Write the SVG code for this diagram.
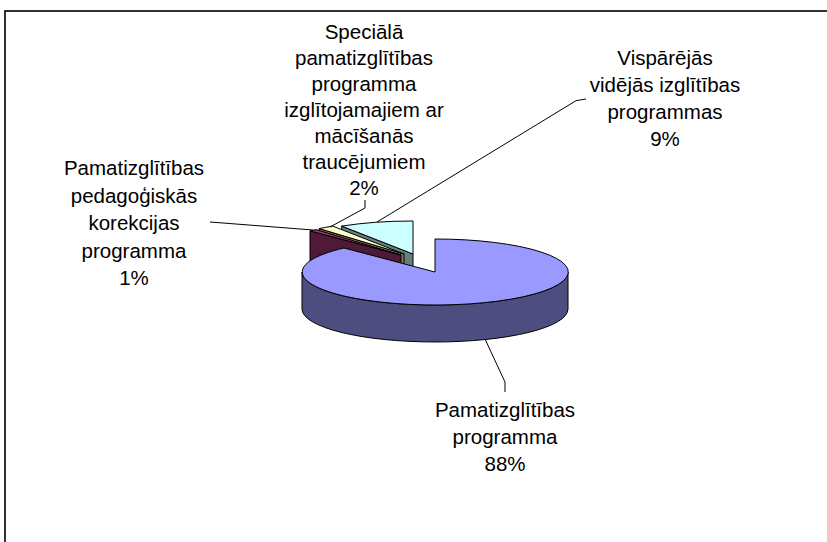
<svg xmlns="http://www.w3.org/2000/svg" width="827" height="542" viewBox="0 0 827 542">
<style>
  text { font-family: "Liberation Sans", Arial, sans-serif; font-size: 20.5px; fill: #000; text-anchor: middle; }
  .face { stroke: #000; stroke-width: 1; stroke-linejoin: round; }
  .lead { fill: none; stroke: #000; stroke-width: 1; }
</style>
<rect x="5" y="11" width="830" height="540" fill="#fff" stroke="#000" stroke-width="1.6"/>
<g id="slice-9">
  <path class="face" fill="#668080" d="M413,254 L341.7,226.1 L341.7,263.1 L413,291 Z"/>
  <path class="face" fill="#CCFFFF" d="M413,254 L341.7,226.1 A133,33 0 0,1 413,221 Z"/>
</g>
<g id="slice-2">
  <path class="face" fill="#808066" d="M404,254 L319.2,228.6 L319.2,265.6 L404,291 Z"/>
  <path class="face" fill="#FFFFCC" d="M404,254 L319.2,228.6 A133,33 0 0,1 332.7,226.1 Z"/>
</g>
<g id="slice-1">
  <path class="face" fill="#4F1A38" d="M401,255 L310,230.9 L310,267.9 L401,292 Z"/>
  <path class="face" fill="#993366" d="M401,255 L310,230.9 A133,33 0 0,1 316.2,229.6 Z"/>
</g>
<g id="slice-88">
  <path class="face" fill="#4D4D80" d="M302,272 A133,33 0 0,0 568,272 L568,309 A133,33 0 0,1 302,309 Z"/>
  <path class="face" fill="#9999FF" d="M435,272 L435,239 A133,33 0 1,1 344,248 Z"/>
</g>
<g id="connectors">
  <path class="lead" d="M485,339 L505,382 L505,392"/>
  <path class="lead" d="M210,222 L313,230"/>
  <path class="lead" d="M365,200 L365,208 L330,227"/>
  <path class="lead" d="M586,99 L576,100.7 L377,222"/>
</g>
<g id="label-88">
  <text x="505" y="417">Pamatizglītības</text>
  <text x="505" y="444">programma</text>
  <text x="505" y="471">88%</text>
</g>
<g id="label-1">
  <text x="134" y="175">Pamatizglītības</text>
  <text x="134" y="202.5">pedagoģiskās</text>
  <text x="134" y="230">korekcijas</text>
  <text x="134" y="257.5">programma</text>
  <text x="134" y="285">1%</text>
</g>
<g id="label-2">
  <text x="364" y="39">Speciālā</text>
  <text x="364" y="65">pamatizglītības</text>
  <text x="364" y="91">programma</text>
  <text x="364" y="117">izglītojamajiem ar</text>
  <text x="364" y="143">mācīšanās</text>
  <text x="364" y="169">traucējumiem</text>
  <text x="364" y="195">2%</text>
</g>
<g id="label-9">
  <text x="665" y="65">Vispārējās</text>
  <text x="665" y="92">vidējās izglītības</text>
  <text x="665" y="119">programmas</text>
  <text x="665" y="146">9%</text>
</g>
</svg>
